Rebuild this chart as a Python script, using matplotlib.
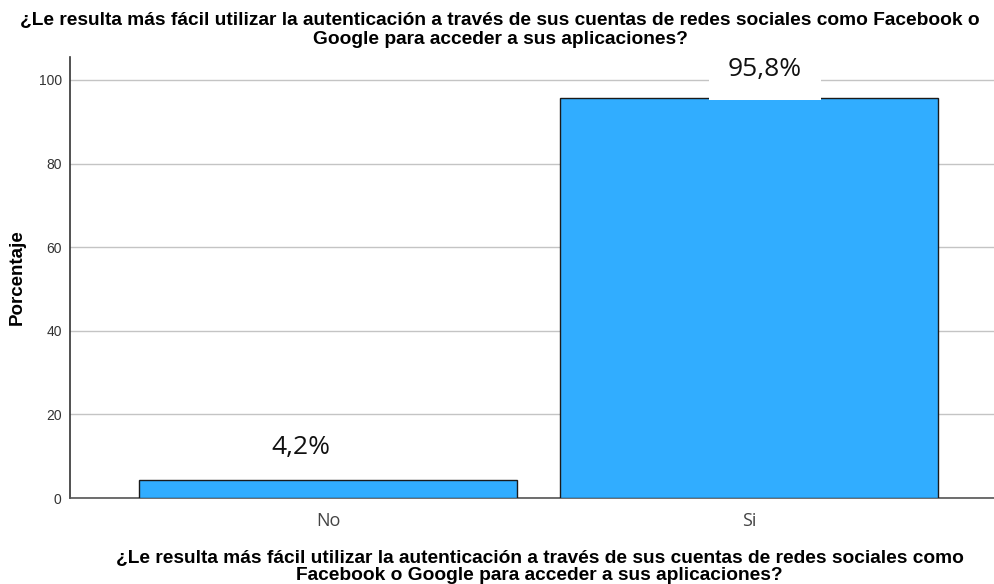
import matplotlib
matplotlib.use("Agg")
import matplotlib.pyplot as plt

categories = ["No", "Si"]
values = [4.2, 95.8]
labels = ["4,2%", "95,8%"]
yticks = [0, 20, 40, 60, 80, 100]
title = "¿Le resulta más fácil utilizar la autenticación a través de sus cuentas de redes sociales como Facebook o\nGoogle para acceder a sus aplicaciones?"
xlabel = "¿Le resulta más fácil utilizar la autenticación a través de sus cuentas de redes sociales como\nFacebook o Google para acceder a sus aplicaciones?"

fig = plt.figure(figsize=(9.94, 5.84), dpi=100)
ax = fig.add_axes([70/994, 1-498/584, 1-70/994, (498-57)/584])

x = list(range(len(categories)))
ax.bar(x, values, width=0.9, color="#31adff", edgecolor="#1a1a1a", linewidth=1.0, zorder=3)
ax.set_xlim(-0.613, 1.582)
ax.set_ylim(0, 105.5)
ax.set_yticks(yticks)
ax.yaxis.grid(True, color="#c4c4c4", linewidth=1.0, zorder=0)
ax.set_axisbelow(True)
for s in ["top", "right"]:
    ax.spines[s].set_visible(False)
ax.spines["left"].set_color("#333333")
ax.spines["bottom"].set_color("#555555")
ax.spines["left"].set_linewidth(1.2)
ax.spines["bottom"].set_linewidth(1.2)

ax.set_xticks(x)
ax.set_xticklabels(categories, fontfamily="Open Sans", fontsize=13, color="#444444")
ax.tick_params(axis="x", length=0, pad=10)
ax.tick_params(axis="y", length=0, pad=6, labelsize=10, labelcolor="#333333")
for t in ax.get_yticklabels():
    t.set_fontfamily("Liberation Sans")

ax.set_ylabel("Porcentaje", fontfamily="Liberation Sans", fontweight="bold", fontsize=13.5, labelpad=9)

offsets = [(-0.065, 12.0), (0.038, 102.6)]
for i, (v, lab) in enumerate(zip(values, labels)):
    dx, yy = offsets[i]
    kw = {}
    if i == 1:
        kw["bbox"] = dict(facecolor="white", edgecolor="none", boxstyle="square,pad=0.7")
    ax.text(x[i] + dx, yy, lab, ha="center", va="center", fontfamily="Open Sans",
            fontsize=19, color="#111111", zorder=5, **kw)

fig.text(0.503, 0.98, title, ha="center", va="top", fontfamily="Liberation Sans",
         fontweight="bold", fontsize=13.8, linespacing=1.15)
fig.text(0.543, 0.0, xlabel, ha="center", va="bottom", fontfamily="Liberation Sans",
         fontweight="bold", fontsize=13.8, linespacing=1.0)

fig.savefig("out.png", dpi=100)
